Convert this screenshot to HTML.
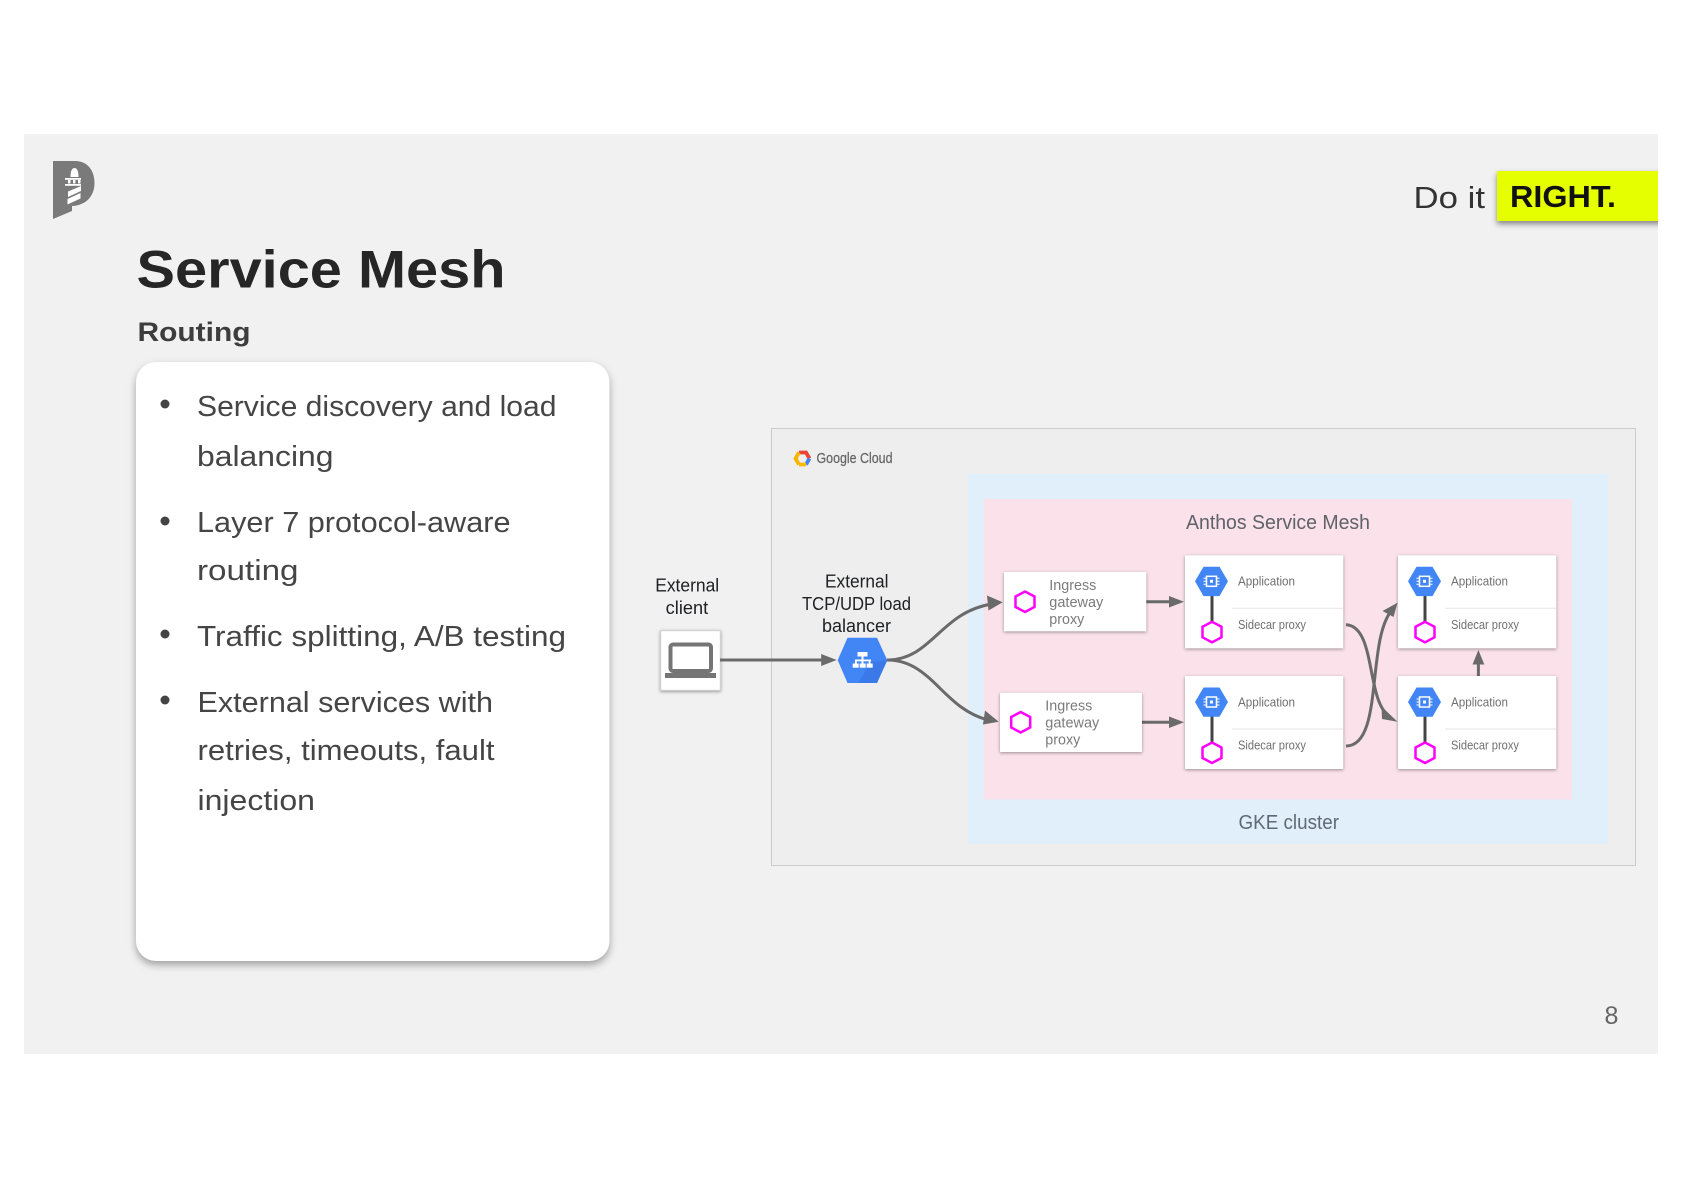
<!DOCTYPE html>
<html><head><meta charset="utf-8"><style>
html,body{margin:0;padding:0;background:#fff;width:1684px;height:1191px;overflow:hidden}
svg{display:block}
text{font-family:"Liberation Sans",sans-serif}
.b{font-size:29px;fill:#454545}
.r{font-size:14.5px;fill:#7b7b7b}
.s{font-size:12.5px;fill:#707070}
.k{font-size:18px;fill:#202124}
.sh{filter:drop-shadow(0 1.5px 1.5px rgba(0,0,0,.38))}
</style></head><body>
<svg width="1684" height="1191" viewBox="0 0 1684 1191" xmlns="http://www.w3.org/2000/svg">
<rect x="24" y="134" width="1634" height="920" fill="#f1f1f1"/>

<!-- logo -->
<path d="M53 161H75C88 161 94.500 171 94.500 183C94.500 197 85 205.500 72 206V211L53 219Z" fill="#7a7a7a"/>
<path d="M70.500 177C70.500 171 72 168 74.500 168C77 168 78.500 171 78.500 177Z" fill="#fff"/>
<rect x="65" y="178" width="16" height="1.800" fill="#fff"/>
<rect x="68" y="180" width="2.500" height="3.500" fill="#fff"/><rect x="73" y="180" width="2.500" height="3.500" fill="#fff"/><rect x="78" y="180" width="2.500" height="3.500" fill="#fff"/>
<rect x="65" y="184" width="16" height="1.800" fill="#fff"/>
<path d="M68 191.500L81 186V191L68 197ZM67.500 199L80.500 193V198.500L67.500 204.500Z" fill="#fff"/>

<!-- title -->
<text x="136.500" y="287.500" font-size="53" font-weight="700" fill="#262626" textLength="369" lengthAdjust="spacingAndGlyphs">Service Mesh</text>
<text x="137.500" y="341" font-size="27" font-weight="700" fill="#3d3d3d" textLength="113" lengthAdjust="spacingAndGlyphs">Routing</text>

<!-- do it right -->
<text x="1413.500" y="208" font-size="31" fill="#333" textLength="71.500" lengthAdjust="spacingAndGlyphs">Do it</text>
<svg x="1490" y="165" width="168" height="70" viewBox="1490 165 168 70"><rect x="1497" y="171" width="175" height="50" fill="#e6ff00" style="filter:drop-shadow(0 3px 3px rgba(0,0,0,.45))"/></svg>
<text x="1510" y="207" font-size="31" font-weight="700" fill="#111" textLength="106" lengthAdjust="spacingAndGlyphs">RIGHT.</text>

<!-- card -->
<rect x="136" y="362" width="473.500" height="599" rx="20" fill="#fff" style="filter:drop-shadow(0 4px 4px rgba(0,0,0,.33))"/>
<circle cx="165" cy="404" r="4.500" fill="#444"/>
<circle cx="165" cy="521" r="4.500" fill="#444"/>
<circle cx="165" cy="634" r="4.500" fill="#444"/>
<circle cx="165" cy="700" r="4.500" fill="#444"/>
<text class="b" x="197" y="416" textLength="359.500" lengthAdjust="spacingAndGlyphs">Service discovery and load</text>
<text class="b" x="197" y="466" textLength="136.500" lengthAdjust="spacingAndGlyphs">balancing</text>
<text class="b" x="197" y="532" textLength="313.500" lengthAdjust="spacingAndGlyphs">Layer 7 protocol-aware</text>
<text class="b" x="197" y="580" textLength="101.500" lengthAdjust="spacingAndGlyphs">routing</text>
<text class="b" x="197" y="646" textLength="369" lengthAdjust="spacingAndGlyphs">Traffic splitting, A/B testing</text>
<text class="b" x="197.500" y="712" textLength="295.500" lengthAdjust="spacingAndGlyphs">External services with</text>
<text class="b" x="197.500" y="760" textLength="297" lengthAdjust="spacingAndGlyphs">retries, timeouts, fault</text>
<text class="b" x="197.500" y="810" textLength="117.500" lengthAdjust="spacingAndGlyphs">injection</text>

<text x="1604.500" y="1024" font-size="25" fill="#666">8</text>

<!-- cloud -->
<rect x="771.500" y="428.500" width="864" height="437" fill="#eeeeee" stroke="#cbcbcb" stroke-width="1"/>
<rect x="968" y="474" width="640" height="370" fill="#e1effa"/>
<rect x="984" y="499" width="588" height="300.500" fill="#fae1ea"/>

<!-- gcloud logo -->
<g fill="none" stroke-width="3.800">
<path d="M799 452.500L806 452.500L809.500 458.500" stroke="#ea4335"/>
<path d="M809.500 458.500L806 464.500" stroke="#4285f4"/>
<path d="M806 464.500L799 464.500" stroke="#fbbc05"/>
<path d="M799 464.500L795.500 458.500L799 452.500" stroke="#f5b400"/>
</g>
<text x="816.500" y="463" font-size="15" fill="#666" stroke="#666" stroke-width=".25" textLength="76" lengthAdjust="spacingAndGlyphs">Google Cloud</text>
<text x="1186" y="529" font-size="20" fill="#5f6368" textLength="184" lengthAdjust="spacingAndGlyphs">Anthos Service Mesh</text>
<text x="1238.500" y="829" font-size="20" fill="#5f6b73" textLength="100.500" lengthAdjust="spacingAndGlyphs">GKE cluster</text>

<!-- labels left -->
<text class="k" x="655.200" y="591.700" textLength="64" lengthAdjust="spacingAndGlyphs">External</text>
<text class="k" x="665.700" y="614" textLength="42.500" lengthAdjust="spacingAndGlyphs">client</text>
<text class="k" x="825" y="587.500" textLength="63.500" lengthAdjust="spacingAndGlyphs">External</text>
<text class="k" x="802" y="610" textLength="109" lengthAdjust="spacingAndGlyphs">TCP/UDP load</text>
<text class="k" x="822" y="632" textLength="69" lengthAdjust="spacingAndGlyphs">balancer</text>

<!-- client box -->
<rect x="660.700" y="630.700" width="59.600" height="59.600" fill="#fff" stroke="#d2d2d2" class="sh"/>
<rect x="670.500" y="644.500" width="40.500" height="26.500" rx="2.500" fill="#fff" stroke="#757575" stroke-width="4"/>
<rect x="665" y="673" width="51" height="5" fill="#757575"/>

<!-- connectors -->
<g fill="none" stroke="#6a6a6a" stroke-width="3">
<path d="M720 660H824"/>
<path d="M887 660C932 660 940 612 992 604"/>
<path d="M887 660C932 660 942 708 988 720"/>
<path d="M1146 601.700H1172"/>
<path d="M1142 722.300H1172"/>
<path d="M1346 624.700C1376 626 1366 700 1389 716"/>
<path d="M1346 746C1384 746 1366 640 1392 610"/>
<path d="M1478.400 676V662"/>
</g>
<g fill="#6a6a6a">
<path d="M836.700 660L821.200 654V666Z"/>
<path d="M1002.700 602.300L987 595.500L988.500 610.500Z"/>
<path d="M998.700 721.800L985 710.500L983 724.500Z"/>
<path d="M1184 601.700L1169 596V607.500Z"/>
<path d="M1184 722.300L1169 716.500V728Z"/>
<path d="M1397.500 721.700L1381.500 706.500L1382 719Z"/>
<path d="M1397.500 602.700L1382.500 611L1393.500 617Z"/>
<path d="M1478.400 650L1472.500 664.500H1484.300Z"/>
</g>

<!-- LB hex -->
<path d="M837.700 660.300L847.500 637.700H877L887.300 660.300L877 683H847.500Z" fill="#4285f4"/>
<path d="M871 662L887.300 660.300L877 683H858Z" fill="#3b78e7" opacity=".9"/>
<g fill="#fff">
<rect x="857.500" y="652" width="10" height="4.500"/>
<rect x="861.500" y="656" width="2" height="4"/>
<rect x="855" y="659.500" width="16" height="1.800"/>
<rect x="855" y="660" width="1.800" height="4"/><rect x="861.500" y="660" width="2" height="4"/><rect x="868.700" y="660" width="1.800" height="4"/>
<rect x="852.700" y="663.500" width="6" height="4.200"/><rect x="859.700" y="663.500" width="6" height="4.200"/><rect x="866.700" y="663.500" width="6" height="4.200"/>
</g>

<!-- ingress -->
<rect x="1004" y="572" width="142.300" height="59.300" fill="#fff" class="sh"/>
<path d="M1025 591.500L1034.500 596.500V607L1025 612L1015.500 607V596.500Z" fill="none" stroke="#f0f" stroke-width="2.500"/>
<text class="r" x="1049.300" y="590" textLength="47" lengthAdjust="spacingAndGlyphs">Ingress</text>
<text class="r" x="1049.300" y="607" textLength="54" lengthAdjust="spacingAndGlyphs">gateway</text>
<text class="r" x="1049.300" y="624" textLength="35" lengthAdjust="spacingAndGlyphs">proxy</text>

<rect x="1000" y="692.700" width="142" height="59.300" fill="#fff" class="sh"/>
<path d="M1020.700 712L1030.200 717V727.500L1020.700 732.500L1011.200 727.500V717Z" fill="none" stroke="#f0f" stroke-width="2.500"/>
<text class="r" x="1045.300" y="710.700" textLength="47" lengthAdjust="spacingAndGlyphs">Ingress</text>
<text class="r" x="1045.300" y="727.700" textLength="54" lengthAdjust="spacingAndGlyphs">gateway</text>
<text class="r" x="1045.300" y="744.700" textLength="35" lengthAdjust="spacingAndGlyphs">proxy</text>

<!-- app boxes -->
<g transform="translate(1185 555.300)">
<rect width="158.300" height="93" fill="#fff" class="sh"/>
<path d="M47 53H158.300" stroke="#e3e3e3" stroke-width="1"/>
<path d="M27 40V66" stroke="#444" stroke-width="3"/>
<path d="M10 26L18.500 11.500H34.500L43 26L34.500 40.800H18.500Z" fill="#4285f4"/>
<rect x="21.500" y="21" width="10" height="10" fill="none" stroke="#fff" stroke-width="1.500"/><rect x="25" y="24.500" width="3" height="3" fill="#fff"/>
<path d="M18.500 23H21M18.500 26H21M18.500 29H21M32 23H34.500M32 26H34.500M32 29H34.500" stroke="#fff" stroke-width="1"/>
<path d="M27 66.500L36.500 71.500V82L27 87L17.500 82V71.500Z" fill="#fff" stroke="#f0f" stroke-width="2.500"/>
<text class="s" x="53" y="30.400" textLength="57" lengthAdjust="spacingAndGlyphs">Application</text>
<text class="s" x="53" y="73.700" textLength="68" lengthAdjust="spacingAndGlyphs">Sidecar proxy</text>
</g>
<g transform="translate(1185 676)">
<rect width="158.300" height="93" fill="#fff" class="sh"/>
<path d="M47 53H158.300" stroke="#e3e3e3" stroke-width="1"/>
<path d="M27 40V66" stroke="#444" stroke-width="3"/>
<path d="M10 26L18.500 11.500H34.500L43 26L34.500 40.800H18.500Z" fill="#4285f4"/>
<rect x="21.500" y="21" width="10" height="10" fill="none" stroke="#fff" stroke-width="1.500"/><rect x="25" y="24.500" width="3" height="3" fill="#fff"/>
<path d="M18.500 23H21M18.500 26H21M18.500 29H21M32 23H34.500M32 26H34.500M32 29H34.500" stroke="#fff" stroke-width="1"/>
<path d="M27 66.500L36.500 71.500V82L27 87L17.500 82V71.500Z" fill="#fff" stroke="#f0f" stroke-width="2.500"/>
<text class="s" x="53" y="30.400" textLength="57" lengthAdjust="spacingAndGlyphs">Application</text>
<text class="s" x="53" y="73.700" textLength="68" lengthAdjust="spacingAndGlyphs">Sidecar proxy</text>
</g>
<g transform="translate(1398 555.300)">
<rect width="158.300" height="93" fill="#fff" class="sh"/>
<path d="M47 53H158.300" stroke="#e3e3e3" stroke-width="1"/>
<path d="M27 40V66" stroke="#444" stroke-width="3"/>
<path d="M10 26L18.500 11.500H34.500L43 26L34.500 40.800H18.500Z" fill="#4285f4"/>
<rect x="21.500" y="21" width="10" height="10" fill="none" stroke="#fff" stroke-width="1.500"/><rect x="25" y="24.500" width="3" height="3" fill="#fff"/>
<path d="M18.500 23H21M18.500 26H21M18.500 29H21M32 23H34.500M32 26H34.500M32 29H34.500" stroke="#fff" stroke-width="1"/>
<path d="M27 66.500L36.500 71.500V82L27 87L17.500 82V71.500Z" fill="#fff" stroke="#f0f" stroke-width="2.500"/>
<text class="s" x="53" y="30.400" textLength="57" lengthAdjust="spacingAndGlyphs">Application</text>
<text class="s" x="53" y="73.700" textLength="68" lengthAdjust="spacingAndGlyphs">Sidecar proxy</text>
</g>
<g transform="translate(1398 676)">
<rect width="158.300" height="93" fill="#fff" class="sh"/>
<path d="M47 53H158.300" stroke="#e3e3e3" stroke-width="1"/>
<path d="M27 40V66" stroke="#444" stroke-width="3"/>
<path d="M10 26L18.500 11.500H34.500L43 26L34.500 40.800H18.500Z" fill="#4285f4"/>
<rect x="21.500" y="21" width="10" height="10" fill="none" stroke="#fff" stroke-width="1.500"/><rect x="25" y="24.500" width="3" height="3" fill="#fff"/>
<path d="M18.500 23H21M18.500 26H21M18.500 29H21M32 23H34.500M32 26H34.500M32 29H34.500" stroke="#fff" stroke-width="1"/>
<path d="M27 66.500L36.500 71.500V82L27 87L17.500 82V71.500Z" fill="#fff" stroke="#f0f" stroke-width="2.500"/>
<text class="s" x="53" y="30.400" textLength="57" lengthAdjust="spacingAndGlyphs">Application</text>
<text class="s" x="53" y="73.700" textLength="68" lengthAdjust="spacingAndGlyphs">Sidecar proxy</text>
</g>
</svg>
</body></html>
